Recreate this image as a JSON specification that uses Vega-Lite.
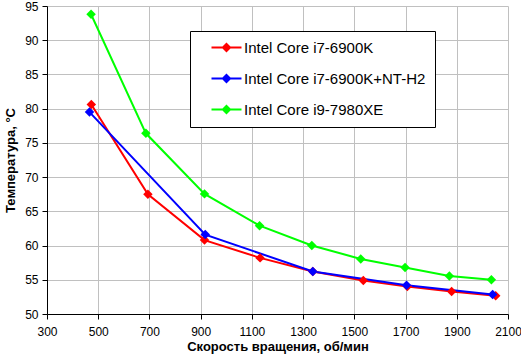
{
  "$schema": "https://vega.github.io/schema/vega-lite/v6.json",
  "width": 461,
  "height": 308,
  "autosize": "none",
  "padding": {"left": 47, "top": 6, "right": 13, "bottom": 41},
  "background": "white",
  "config": {
    "font": "Liberation Sans",
    "view": {"stroke": null},
    "axis": {
      "labelFont": "Liberation Sans",
      "labelFontSize": 12,
      "labelColor": "black",
      "titleFont": "Liberation Sans",
      "titleFontSize": 13,
      "titleFontWeight": "bold",
      "titleColor": "black",
      "gridColor": "#c0c0c0",
      "gridWidth": 1,
      "domainColor": "black",
      "domainWidth": 1,
      "tickColor": "black",
      "tickSize": 5
    }
  },
  "data": {
    "values": [
      {"cpu": "Intel Core i7-6900K", "rpm": 473, "t": 80.6},
      {"cpu": "Intel Core i7-6900K", "rpm": 694, "t": 67.5},
      {"cpu": "Intel Core i7-6900K", "rpm": 915, "t": 60.8},
      {"cpu": "Intel Core i7-6900K", "rpm": 1132, "t": 58.2},
      {"cpu": "Intel Core i7-6900K", "rpm": 1338, "t": 56.2},
      {"cpu": "Intel Core i7-6900K", "rpm": 1535, "t": 54.9},
      {"cpu": "Intel Core i7-6900K", "rpm": 1707, "t": 54.0},
      {"cpu": "Intel Core i7-6900K", "rpm": 1880, "t": 53.3},
      {"cpu": "Intel Core i7-6900K", "rpm": 2052, "t": 52.65},
      {"cpu": "Intel Core i7-6900K+NT-H2", "rpm": 466, "t": 79.5},
      {"cpu": "Intel Core i7-6900K+NT-H2", "rpm": 918, "t": 61.6},
      {"cpu": "Intel Core i7-6900K+NT-H2", "rpm": 1338, "t": 56.2},
      {"cpu": "Intel Core i7-6900K+NT-H2", "rpm": 1704, "t": 54.2},
      {"cpu": "Intel Core i7-6900K+NT-H2", "rpm": 2040, "t": 52.85},
      {"cpu": "Intel Core i9-7980XE", "rpm": 472, "t": 93.8},
      {"cpu": "Intel Core i9-7980XE", "rpm": 686, "t": 76.4},
      {"cpu": "Intel Core i9-7980XE", "rpm": 915, "t": 67.55},
      {"cpu": "Intel Core i9-7980XE", "rpm": 1130, "t": 62.9},
      {"cpu": "Intel Core i9-7980XE", "rpm": 1334, "t": 60.0},
      {"cpu": "Intel Core i9-7980XE", "rpm": 1525, "t": 58.05},
      {"cpu": "Intel Core i9-7980XE", "rpm": 1698, "t": 56.8},
      {"cpu": "Intel Core i9-7980XE", "rpm": 1871, "t": 55.55},
      {"cpu": "Intel Core i9-7980XE", "rpm": 2035, "t": 55.0}
    ]
  },
  "encoding": {
    "x": {
      "field": "rpm",
      "type": "quantitative",
      "scale": {"domain": [300, 2100], "nice": false, "zero": false},
      "axis": {"values": [300, 500, 700, 900, 1100, 1300, 1500, 1700, 1900, 2100], "format": "d", "title": "Скорость вращения, об/мин", "labelPadding": 7, "titlePadding": 3, "labelFlush": false}
    },
    "y": {
      "field": "t",
      "type": "quantitative",
      "scale": {"domain": [50, 95], "nice": false, "zero": false},
      "axis": {"values": [50, 55, 60, 65, 70, 75, 80, 85, 90, 95], "title": "Температура, °C", "labelPadding": 4, "titlePadding": 7, "labelFlush": false}
    },
    "color": {
      "field": "cpu",
      "type": "nominal",
      "scale": {
        "domain": ["Intel Core i7-6900K", "Intel Core i7-6900K+NT-H2", "Intel Core i9-7980XE"],
        "range": ["#ff0000", "#0000ff", "#00ff00"]
      },
      "legend": {
        "title": null,
        "orient": "none",
        "legendX": 143,
        "legendY": 25,
        "padding": 9,
        "strokeColor": "black",
        "fillColor": "white",
        "cornerRadius": 0,
        "symbolType": "M0.833,-0.167H5.833V0.167H0.833Z M3.333,-0.833L4.167,0L3.333,0.833L2.5,0Z",
        "symbolSize": 144,
        "symbolStrokeWidth": 0,
        "symbolOpacity": 1,
        "labelOffset": 30,
        "labelFont": "Liberation Sans",
        "labelFontSize": 15,
        "labelColor": "black",
        "labelLimit": 300,
        "rowPadding": 15,
        "encode": {
          "symbols": {
            "update": {
              "fill": {"scale": "color", "field": "value"},
              "fillOpacity": {"value": 1},
              "strokeWidth": {"value": 0}
            }
          }
        }
      }
    }
  },
  "layer": [
    {
      "mark": {"type": "line", "strokeWidth": 2, "interpolate": "linear"}
    },
    {
      "mark": {"type": "point", "shape": "diamond", "filled": true, "size": 90, "opacity": 1}
    }
  ]
}
